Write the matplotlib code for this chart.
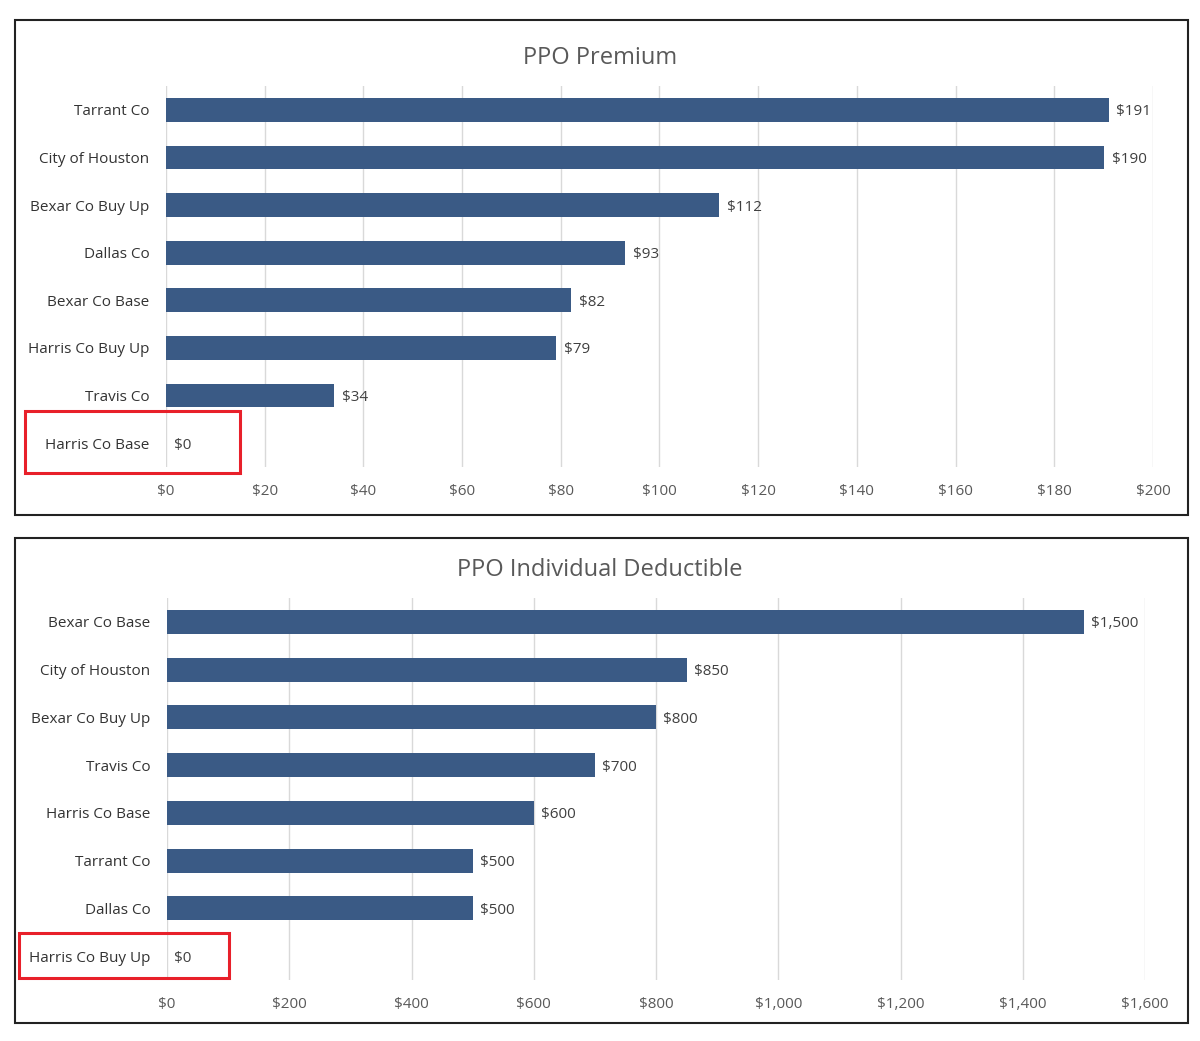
import matplotlib.pyplot as plt
from matplotlib.patches import Rectangle
from matplotlib.ticker import FuncFormatter

plt.rcParams['font.family'] = ['Open Sans', 'DejaVu Sans']

premium_names = ['Tarrant Co', 'City of Houston', 'Bexar Co Buy Up', 'Dallas Co',
                 'Bexar Co Base', 'Harris Co Buy Up', 'Travis Co', 'Harris Co Base']
premium_vals = [191, 190, 112, 93, 82, 79, 34, 0]
premium_ticks = [0, 20, 40, 60, 80, 100, 120, 140, 160, 180, 200]

deduct_names = ['Bexar Co Base', 'City of Houston', 'Bexar Co Buy Up', 'Travis Co',
                'Harris Co Base', 'Tarrant Co', 'Dallas Co', 'Harris Co Buy Up']
deduct_vals = [1500, 850, 800, 700, 600, 500, 500, 0]
deduct_ticks = [0, 200, 400, 600, 800, 1000, 1200, 1400, 1600]

bar_col = '#3A5A85'
lab_col = '#333333'
tick_col = '#595959'
grid_col = '#D9D9D9'

fig = plt.figure(figsize=(12, 10.41), dpi=100)

# outer frames around each chart
fig.patches.append(Rectangle((0.0125, 0.5053), 0.9775, 0.4755, transform=fig.transFigure,
                             fill=False, edgecolor='#222222', linewidth=1.5))
fig.patches.append(Rectangle((0.0125, 0.0173), 0.9775, 0.4660, transform=fig.transFigure,
                             fill=False, edgecolor='#222222', linewidth=1.5))


def draw(ax, names, vals, ticks, title, pad):
    y = range(len(names))
    ax.barh(y, vals, height=0.5, color=bar_col, zorder=3)
    for yi, v in zip(y, vals):
        ax.text(v + pad, yi, '${:,}'.format(v), va='center_baseline', ha='left',
                fontsize=11, color='#404040')
    ax.set_yticks(list(y))
    ax.set_yticklabels(names, fontsize=11, color=lab_col)
    ax.set_ylim(len(names) - 0.5, -0.5)
    ax.set_xlim(ticks[0], ticks[-1])
    ax.set_xticks(ticks)
    ax.xaxis.set_major_formatter(FuncFormatter(lambda x, p: '${:,.0f}'.format(x)))
    ax.tick_params(axis='x', colors=tick_col, labelsize=11, length=0, pad=12)
    ax.tick_params(axis='y', length=0, pad=12)
    ax.grid(axis='x', color=grid_col, linewidth=1, zorder=0)
    ax.set_axisbelow(True)
    for s in ax.spines.values():
        s.set_visible(False)
    ax.set_title(title, fontsize=17, color=tick_col, pad=16)


ax1 = fig.add_axes([0.1383, 0.5514, 0.8225, 0.366])
draw(ax1, premium_names, premium_vals, premium_ticks, 'PPO Premium', 1.6)
ax1.title.set_x(0.4397)

ax2 = fig.add_axes([0.1392, 0.0586, 0.815, 0.367])
draw(ax2, deduct_names, deduct_vals, deduct_ticks, 'PPO Individual Deductible', 12)
ax2.title.set_x(0.4427)

# red highlight boxes
fig.patches.append(Rectangle((25 / 1200, 1 - 473 / 1041), 215 / 1200, 62 / 1041,
                             transform=fig.transFigure, fill=False,
                             edgecolor='#E8202A', linewidth=2.2))
fig.patches.append(Rectangle((19 / 1200, 1 - 978 / 1041), 210 / 1200, 45 / 1041,
                             transform=fig.transFigure, fill=False,
                             edgecolor='#E8202A', linewidth=2.2))

fig.savefig('out.png', dpi=100)
